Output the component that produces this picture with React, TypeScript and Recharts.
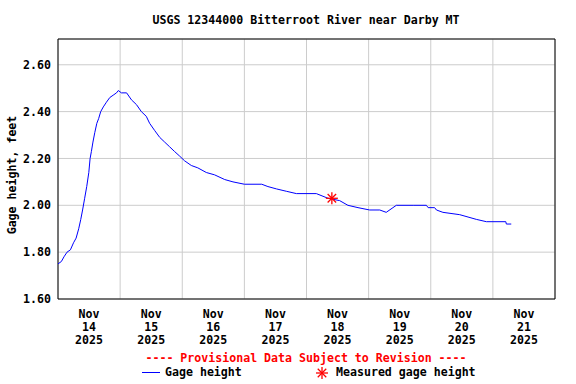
import {
  ComposedChart,
  Line,
  Scatter,
  XAxis,
  YAxis,
  CartesianGrid,
  ReferenceArea,
} from 'recharts';

// hours since Nov 14 2025 00:00
const hours = [
  0, 1.3, 2.3, 3.5, 4.8, 6, 7, 8, 8.8, 9.5, 10.3, 11.1, 11.9, 12.4, 12.9, 13.5, 14.2, 15,
  15.7, 16.5, 17.5, 18.7, 20, 21.3, 22.6, 23.3, 24.5, 26.5, 28.4, 30.3, 32.2, 34.1, 35.4,
  37.3, 39.3, 41.2, 43.1, 45, 47, 48.9, 51.5, 54, 57.3, 60.5, 64.4, 67.6, 72, 78.7, 81.1,
  84.4, 88.2, 92.1, 99.8, 104.3, 108.8, 112, 115.9, 120.4, 124.3, 126.8, 129.4, 130.7,
  137.2, 142.3, 143, 145.5, 146.2, 148.7, 155.2, 158.4, 161.6, 165.5, 173, 173.2, 175.1,
];
const gageHeight = [
  1.75, 1.76, 1.78, 1.8, 1.81, 1.84, 1.86, 1.9, 1.94, 1.98, 2.03, 2.08, 2.14, 2.2, 2.23, 2.27,
  2.31, 2.35, 2.37, 2.4, 2.42, 2.44, 2.46, 2.47, 2.48, 2.49, 2.48, 2.48, 2.45, 2.43, 2.4,
  2.38, 2.35, 2.32, 2.29, 2.27, 2.25, 2.23, 2.21, 2.19, 2.17, 2.16, 2.14, 2.13, 2.11, 2.1,
  2.09, 2.09, 2.08, 2.07, 2.06, 2.05, 2.05, 2.03, 2.02, 2.0, 1.99, 1.98, 1.98, 1.97, 1.99,
  2.0, 2.0, 2.0, 1.99, 1.99, 1.98, 1.97, 1.96, 1.95, 1.94, 1.93, 1.93, 1.92, 1.92,
];
const measuredHours = [105.8];
const measuredHeight = [2.03];

const dayTicks = [0, 24, 48, 72, 96, 120, 144, 168, 192];
const labelTicks = [12, 36, 60, 84, 108, 132, 156, 180];
const dayLabels = ['14', '15', '16', '17', '18', '19', '20', '21'];
const yTicks = [1.6, 1.8, 2.0, 2.2, 2.4, 2.6];

const series = hours.map((t, i) => ({ t, v: gageHeight[i] }));
const measured = measuredHours.map((t, i) => ({ t, v: measuredHeight[i] }));

const FONT = '"DejaVu Sans Mono", monospace';
const FS = 11.6;

const Star = ({ cx, cy }: any) => {
  const r = 6;
  const d = r * 0.707;
  return (
    <g stroke="#ff0000" strokeWidth={1.3}>
      <line x1={cx - r} y1={cy} x2={cx + r} y2={cy} />
      <line x1={cx} y1={cy - r} x2={cx} y2={cy + r} />
      <line x1={cx - d} y1={cy - d} x2={cx + d} y2={cy + d} />
      <line x1={cx - d} y1={cy + d} x2={cx + d} y2={cy - d} />
    </g>
  );
};

const EmptyTick = () => <g />;

const DateTick = ({ x, y, payload }: any) => {
  const i = labelTicks.indexOf(payload.value);
  return (
    <text
      x={x}
      y={y}
      textAnchor="middle"
      fontFamily={FONT}
      fontWeight="bold"
      fontSize={FS}
      fill="#000"
    >
      <tspan x={x} dy={19}>Nov</tspan>
      <tspan x={x} dy={13}>{dayLabels[i]}</tspan>
      <tspan x={x} dy={13}>2025</tspan>
    </text>
  );
};

export default function App() {
  const txt = { fontFamily: FONT, fontWeight: 'bold' as const, fontSize: FS, whiteSpace: 'pre' as const };
  return (
    <div style={{ position: 'absolute', left: 0, top: 0, width: 576, height: 384, background: '#fff' }}>
      <ComposedChart
        width={576}
        height={384}
        margin={{ top: 39, right: 21, left: 0, bottom: 33 }}
      >
        <CartesianGrid stroke="#cccccc" strokeWidth={1} />
        <XAxis
          xAxisId={0}
          dataKey="t"
          type="number"
          domain={[0, 192]}
          allowDataOverflow
          ticks={dayTicks}
          tick={<EmptyTick />}
          tickLine={false}
          axisLine={false}
          height={0}
          interval={0}
        />
        <XAxis
          xAxisId="lbl"
          dataKey="t"
          type="number"
          domain={[0, 192]}
          allowDataOverflow
          ticks={labelTicks}
          tick={<DateTick />}
          tickSize={0}
          tickMargin={0}
          tickLine={false}
          axisLine={false}
          height={52}
          interval={0}
        />
        <YAxis
          type="number"
          domain={[1.6, 2.71]}
          ticks={yTicks}
          allowDataOverflow
          width={58}
          tickSize={0}
          tickMargin={7}
          tickLine={false}
          axisLine={false}
          tickFormatter={(v: number) => v.toFixed(2)}
          tick={{ fill: '#000', fontFamily: FONT, fontWeight: 'bold', fontSize: FS }}
          interval={0}
        />
        <ReferenceArea
          x1={0}
          x2={192}
          y1={1.6}
          y2={2.71}
          fill="none"
          stroke="#000"
          strokeWidth={1}
          fillOpacity={0}
          ifOverflow="visible"
        />
        <Line
          data={series}
          dataKey="v"
          type="linear"
          stroke="#0000ff"
          strokeWidth={1}
          dot={false}
          isAnimationActive={false}
        />
        <Scatter data={measured} dataKey="v" shape={<Star />} isAnimationActive={false} />
      </ComposedChart>

      <div style={{ ...txt, position: 'absolute', top: 13, left: 0, width: 612, textAlign: 'center' }}>
        USGS 12344000 Bitterroot River near Darby MT
      </div>
      <div
        style={{
          ...txt,
          position: 'absolute',
          left: 12,
          top: 175,
          transform: 'translate(-50%, -50%) rotate(-90deg)',
        }}
      >
        Gage height, feet
      </div>
      <div style={{ ...txt, position: 'absolute', top: 351, left: 0, width: 612, textAlign: 'center', color: '#ff0000' }}>
        ---- Provisional Data Subject to Revision ----
      </div>
      <div style={{ position: 'absolute', left: 142, top: 372, width: 18, height: 1, background: '#0000ff' }} />
      <div style={{ ...txt, position: 'absolute', left: 165, top: 365 }}>Gage height</div>
      <svg style={{ position: 'absolute', left: 315, top: 366 }} width={14} height={14}>
        <Star cx={7} cy={7} />
      </svg>
      <div style={{ ...txt, position: 'absolute', left: 336, top: 365 }}>Measured gage height</div>
    </div>
  );
}
